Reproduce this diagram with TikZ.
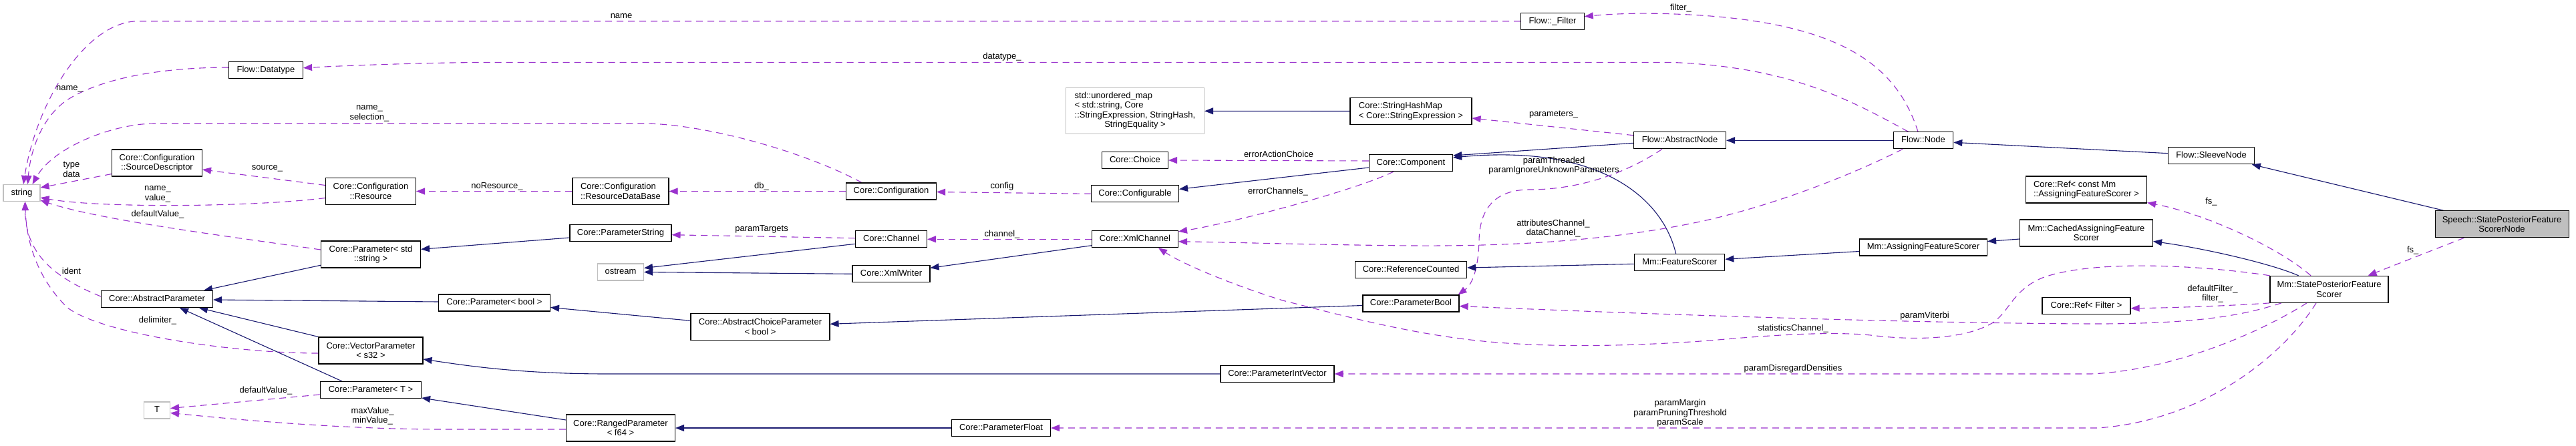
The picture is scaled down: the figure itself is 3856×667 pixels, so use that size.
\documentclass[tikz,border=0pt]{standalone}
\usepackage{fontspec}
\setmainfont{Liberation Sans}
\usetikzlibrary{arrows.meta,calc}
\definecolor{dcol}{HTML}{9A32CD}
\definecolor{icol}{HTML}{191970}
\definecolor{gcol}{HTML}{BFBFBF}
\pgfdeclarelayer{background}
\pgfsetlayers{background,main}
\tikzset{
  every node/.style={font=\fontsize{13}{14.5}\selectfont},
  cls/.style={draw=black, line width=1.1pt, inner sep=0pt, align=center, fill=white},
  one/.style={text height=9.4pt, text depth=2.8pt},
  extcls/.style={cls, draw=gcol},
  curcls/.style={cls, fill=gcol},
  dep/.style={draw=dcol, line width=1.1pt, dash pattern=on 10pt off 7pt, -{Triangle[length=13pt,width=10pt]}},
  inh/.style={draw=icol, line width=1.1pt, -{Triangle[length=13pt,width=10pt]}},
  lab/.style={inner sep=0pt, align=center},
}
\begin{document}
\begin{tikzpicture}[x=1pt,y=-1pt]
\useasboundingbox (0,0) rectangle (3856,667);
% ---------------- nodes ----------------
\node[extcls,one,minimum width=55pt,minimum height=25pt] (str) at (32.5,289) {string};
\node[cls,one,minimum width=111pt,minimum height=25pt] (datatype) at (398,105) {Flow::Datatype};
\node[cls,minimum width=135pt,minimum height=40pt] (srcdesc) at (235,244) {Core::Configuration\\::SourceDescriptor};
\node[cls,minimum width=135pt,minimum height=40pt] (resource) at (555,286.5) {Core::Configuration\\::Resource};
\node[cls,minimum width=149pt,minimum height=40pt] (pstr) at (555,381) {Core::Parameter< std\\::string >};
\node[cls,one,minimum width=167pt,minimum height=25pt] (absparam) at (235,448) {Core::AbstractParameter};
\node[cls,minimum width=156pt,minimum height=40pt] (vecparam) at (555,525) {Core::VectorParameter\\< s32 >};
\node[cls,one,minimum width=151pt,minimum height=25pt] (paramT) at (555,584) {Core::Parameter< T >};
\node[extcls,one,minimum width=39pt,minimum height=25pt] (T) at (235,614.5) {T};
\node[cls,align=left,minimum width=144pt,minimum height=40pt] (rdb) at (929,286.5) {Core::Configuration\\::ResourceDataBase};
\node[cls,one,minimum width=152pt,minimum height=25pt] (pstring) at (929,349) {Core::ParameterString};
\node[extcls,one,minimum width=69pt,minimum height=25pt] (ostream) at (929,407.5) {ostream};
\node[cls,one,minimum width=167pt,minimum height=25pt] (pbool) at (740,453.5) {Core::Parameter< bool >};
\node[cls,minimum width=208pt,minimum height=40pt] (acp) at (1138,489.3) {Core::AbstractChoiceParameter\\< bool >};
\node[cls,minimum width=163pt,minimum height=40pt] (ranged) at (929,641) {Core::RangedParameter\\< f64 >};
\node[cls,one,minimum width=135pt,minimum height=25pt] (config) at (1334,286.5) {Core::Configuration};
\node[cls,one,minimum width=107pt,minimum height=25pt] (channel) at (1334,358.3) {Core::Channel};
\node[cls,one,minimum width=116pt,minimum height=25pt] (xmlwriter) at (1334,410.3) {Core::XmlWriter};
\node[extcls,minimum width=207pt,minimum height=69pt] (umap) at (1699,166.3) {\begin{tabular}{@{}l@{}}std::unordered\_map\\< std::string, Core\\::StringExpression, StringHash,\\\multicolumn{1}{@{}c@{}}{StringEquality >}\end{tabular}};
\node[cls,one,minimum width=99pt,minimum height=25pt] (choice) at (1699,240) {Core::Choice};
\node[cls,one,minimum width=131pt,minimum height=25pt] (configurable) at (1699,290.3) {Core::Configurable};
\node[cls,one,minimum width=129pt,minimum height=25pt] (xmlchannel) at (1699,358.3) {Core::XmlChannel};
\node[cls,one,minimum width=170pt,minimum height=25pt] (pintvec) at (1912,560) {Core::ParameterIntVector};
\node[cls,one,minimum width=148pt,minimum height=25pt] (pfloat) at (1498.5,641) {Core::ParameterFloat};
\node[cls,one,minimum width=94.5pt,minimum height=25pt] (filter) at (2324,31.7) {Flow::\_Filter};
\node[cls,align=left,minimum width=182pt,minimum height=40pt] (shm) at (2112,166.5) {Core::StringHashMap\\< Core::StringExpression >};
\node[cls,one,minimum width=125pt,minimum height=25pt] (component) at (2112,244) {Core::Component};
\node[cls,one,minimum width=167pt,minimum height=25pt] (refcounted) at (2112,404) {Core::ReferenceCounted};
\node[cls,one,minimum width=144pt,minimum height=25pt] (pboolc) at (2112,454.5) {Core::ParameterBool};
\node[cls,one,minimum width=138pt,minimum height=25pt] (absnode) at (2514.5,210.3) {Flow::AbstractNode};
\node[cls,one,minimum width=135pt,minimum height=25pt] (featscorer) at (2514.3,393.3) {Mm::FeatureScorer};
\node[cls,one,minimum width=89.5pt,minimum height=25pt] (flownode) at (2879,210.3) {Flow::Node};
\node[cls,one,minimum width=191pt,minimum height=25pt] (afs) at (2879,370.5) {Mm::AssigningFeatureScorer};
\node[cls,align=left,minimum width=181pt,minimum height=40pt] (refafs) at (3123,284) {Core::Ref< const Mm\\::AssigningFeatureScorer >};
\node[cls,minimum width=199pt,minimum height=40pt] (cafs) at (3123,349) {Mm::CachedAssigningFeature\\Scorer};
\node[cls,one,minimum width=132pt,minimum height=25pt] (reffilter) at (3123,458.3) {Core::Ref< Filter >};
\node[cls,one,minimum width=128.5pt,minimum height=25pt] (sleeve) at (3310,233.3) {Flow::SleeveNode};
\node[cls,minimum width=177pt,minimum height=40pt] (spfs) at (3486.5,433.3) {Mm::StatePosteriorFeature\\Scorer};
\node[curcls,minimum width=200pt,minimum height=40pt] (speech) at (3745,335.7) {Speech::StatePosteriorFeature\\ScorerNode};
% ---------------- labels ----------------
\node[lab,one] (lname) at (930,24) {name};
\node[lab,one] (lname2) at (104,132) {name\_};
\node[lab] (lnamesel) at (553,170) {name\_\\selection\_};
\node[lab] (ltypedata) at (107,254) {type\\data};
\node[lab,one] (lsource) at (400,251) {source\_};
\node[lab] (lnamevalue) at (236,291) {name\_\\value\_};
\node[lab,one] (ldefval) at (236,321) {defaultValue\_};
\node[lab,one] (lident) at (107,407) {ident};
\node[lab,one] (ldelim) at (236,480) {delimiter\_};
\node[lab,one] (lnores) at (744,279) {noResource\_};
\node[lab,one] (ldb) at (1140,279) {db\_};
\node[lab,one] (lconfig) at (1500,279) {config};
\node[lab,one] (lerrac) at (1914,232) {errorActionChoice};
\node[lab,one] (lerrch) at (1913,287) {errorChannels\_};
\node[lab,one] (lparams) at (2325.5,171) {parameters\_};
\node[lab] (lthreaded) at (2326,248) {paramThreaded\\paramIgnoreUnknownParameters};
\node[lab] (lattr) at (2325,342) {attributesChannel\_\\dataChannel\_};
\node[lab,one] (lchannel) at (1500,351) {channel\_};
\node[lab,one] (ltargets) at (1140,343) {paramTargets};
\node[lab,one] (ldefvalT) at (398,585) {defaultValue\_};
\node[lab] (lmaxmin) at (557.6,623) {maxValue\_\\minValue\_};
\node[lab,one] (lfs1) at (3310,302) {fs\_};
\node[lab,one] (lfs2) at (3611.7,375) {fs\_};
\node[lab] (ldeffilter) at (3312,440) {defaultFilter\_\\filter\_};
\node[lab,one] (lviterbi) at (2881,473) {paramViterbi};
\node[lab,one] (lstat) at (2684,492) {statisticsChannel\_};
\node[lab,one] (ldisreg) at (2684,552) {paramDisregardDensities};
\node[lab] (lmargin) at (2515,619) {paramMargin\\paramPruningThreshold\\paramScale};
\node[lab,one] (lfilter) at (2516,12) {filter\_};
\node[lab,one] (ldatatype) at (1500,85) {datatype\_};
% ---------------- edges ----------------
\begin{pgfonlayer}{background}
\fill[white] (0,0) rectangle (3856,667);
% to string
\draw[dep] (filter.west) -- (207,31.7) .. controls (130,31.7) and (55,150) .. ($(str.north)+(2.5,0)$);
\draw[dep] ($(datatype.west)+(0,-4)$) .. controls (260,101) and (160,112) .. (100,150) .. controls (60,178) and (45,230) .. ($(str.north)+(9,0)$);
\draw[dep] ($(config.north west)+(24,0)$) .. controls (1200,225) and (1050,185) .. (963,185) -- (232,185) .. controls (170,185) and (80,220) .. ($(str.north)+(16,0)$);
\draw[dep] ($(srcdesc.south west)+(0,-4)$) -- ($(str.east)+(0,-8)$);
\draw[dep] ($(resource.west)+(0,-9)$) -- ($(srcdesc.east)+(0,10)$);
\draw[dep] ($(resource.west)+(0,10)$) .. controls (380,310) and (150,312) .. ($(str.east)+(0,7)$);
\draw[dep] ($(pstr.west)+(0,-7)$) .. controls (350,355) and (150,330) .. ($(str.east)+(0,11)$);
\draw[dep] ($(absparam.west)+(0,-4)$) .. controls (80,415) and (38,380) .. ($(str.south)+(5,0)$);
\draw[dep] ($(vecparam.west)+(0,4)$) .. controls (350,529) and (150,500) .. (100,460) .. controls (60,420) and (40,370) .. ($(str.south)+(5,0)$);
% configuration group
\draw[dep] (rdb.west) -- (resource.east);
\draw[dep] (config.west) -- (rdb.east);
\draw[dep] (configurable.west) -- ($(config.east)+(0,1)$);
\draw[dep] ($(component.west)+(0,-3)$) -- (choice.east);
\draw[inh] ($(component.west)+(0,7)$) -- ($(configurable.east)+(0,-7)$);
\draw[dep] ($(component.south)+(-26,0)$) .. controls (2030,285) and (1840,335) .. ($(xmlchannel.north east)+(0,1.5)$);
\draw[inh] (shm.west) -- (umap.east);
\draw[dep] ($(absnode.west)+(0,-7.6)$) -- ($(shm.east)+(0,10.5)$);
\draw[inh] ($(absnode.west)+(0,4)$) -- ($(component.east)+(0,-11)$);
\draw[inh] ($(featscorer.north)+(-5.6,0)$) .. controls (2490,300) and (2400,215) .. ($(component.east)+(0,-8)$);
\draw[dep] ($(absnode.south)+(-26.5,0)$) .. controls (2430,262) and (2360,284) .. (2290,284) .. controls (2240,284) and (2215,310) .. (2214,360) .. controls (2213,400) and (2205,425) .. ($(pboolc.north east)+(-2,0)$);
\draw[dep] ($(flownode.south)+(-31,0)$) .. controls (2760,268) and (2640,312) .. (2540,333) .. controls (2420,358) and (2280,369) .. (2120,368) .. controls (1980,367) and (1850,363) .. ($(xmlchannel.east)+(0,3.5)$);
% channels
\draw[dep] (xmlchannel.west) -- (channel.east);
\draw[inh] ($(xmlchannel.west)+(0,9.4)$) -- ($(xmlwriter.east)+(0,-9)$);
\draw[inh] ($(channel.west)+(0,7)$) -- ($(ostream.east)+(0,-6)$);
\draw[inh] (xmlwriter.west) -- (ostream.east);
\draw[dep] ($(channel.west)+(0,-1.6)$) -- ($(pstring.east)+(0,2.7)$);
% parameters
\draw[inh] ($(pstring.west)+(0,7)$) -- ($(pstr.east)+(0,-7.7)$);
\draw[inh] ($(pstr.south west)+(0,-4.3)$) -- ($(absparam.north)+(70,0)$);
\draw[inh] ($(pbool.west)+(0,-1.5)$) -- ($(absparam.east)+(0,1)$);
\draw[inh] ($(acp.west)+(0,-9)$) -- ($(pbool.east)+(0,7)$);
\draw[inh] ($(pboolc.west)+(0,3)$) -- ($(acp.east)+(0,-4)$);
\draw[inh] (vecparam.north west) -- ($(absparam.south)+(63,0)$);
\draw[inh] ($(paramT.north west)+(33,0)$) -- ($(absparam.south)+(34,0)$);
\draw[dep] ($(paramT.west)+(0,7)$) -- ($(T.east)+(0,-3)$);
\draw[dep] ($(ranged.west)+(0,2)$) -- (650,643) .. controls (500,642) and (350,628) .. ($(T.east)+(0,4)$);
\draw[inh] ($(ranged.west)+(0,-12)$) -- ($(paramT.east)+(0,12)$);
\draw[inh] (pintvec.west) -- (910,560) .. controls (780,560) and (700,548) .. ($(vecparam.east)+(0,13)$);
\draw[inh] (pfloat.west) -- (ranged.east);
% scorers and nodes
\draw[inh] ($(featscorer.west)+(0,2)$) -- ($(refcounted.east)+(0,-3)$);
\draw[inh] ($(afs.west)+(0,6)$) -- ($(featscorer.east)+(0,-5)$);
\draw[inh] ($(cafs.west)+(0,9)$) -- ($(afs.east)+(0,-9)$);
\draw[inh] (flownode.west) -- (absnode.east);
\draw[inh] ($(sleeve.west)+(0,-3.6)$) -- ($(flownode.east)+(0,3)$);
\draw[inh] ($(speech.north west)+(13,0)$) -- ($(sleeve.south east)+(-4,0)$);
\draw[inh] ($(spfs.north)+(-46,0)$) .. controls (3400,395) and (3300,372) .. ($(cafs.south east)+(0,-8)$);
\draw[dep] ($(spfs.north)+(-27.5,0)$) .. controls (3410,370) and (3300,320) .. ($(refafs.south east)+(0,-1)$);
\draw[dep] ($(speech.south west)+(44,0)$) -- ($(spfs.north east)+(-31,0)$);
\draw[dep] (spfs.south west) .. controls (3340,458) and (3250,461) .. ($(reffilter.east)+(0,3.5)$);
\draw[dep] ($(spfs.south west)+(17.5,0)$) .. controls (3350,475) and (3280,484) .. (3150,485) .. controls (2900,485) and (2500,472) .. ($(pboolc.east)+(0,4)$);
\draw[dep] (spfs.north west) .. controls (3300,398) and (3140,388) .. (3060,415) .. controls (3015,432) and (3008,465) .. (2985,482) .. controls (2950,505) and (2880,512) .. (2800,502) .. controls (2740,496) and (2650,502) .. (2560,510) .. controls (2450,518) and (2320,522) .. (2210,510) .. controls (2100,498) and (2000,470) .. (1920,450) .. controls (1840,425) and (1770,395) .. ($(xmlchannel.south)+(35,0)$);
\draw[dep] ($(spfs.south)+(-33.5,0)$) .. controls (3380,500) and (3250,555) .. (3130,560) -- (pintvec.east);
\draw[dep] ($(spfs.south)+(-19.5,0)$) .. controls (3420,530) and (3300,630) .. (3140,641) -- (pfloat.east);
\draw[dep] ($(flownode.north)+(-8,0)$) .. controls (2840,100) and (2760,40) .. (2560,24) .. controls (2480,18) and (2420,20) .. ($(filter.east)+(0,-7)$);
\draw[dep] ($(flownode.north)+(-22.5,0)$) .. controls (2770,150) and (2680,100) .. (2500,93.3) -- (750,93.3) .. controls (650,93.3) and (520,98) .. ($(datatype.east)+(0,-3.3)$);
\end{pgfonlayer}
\end{tikzpicture}
\end{document}
